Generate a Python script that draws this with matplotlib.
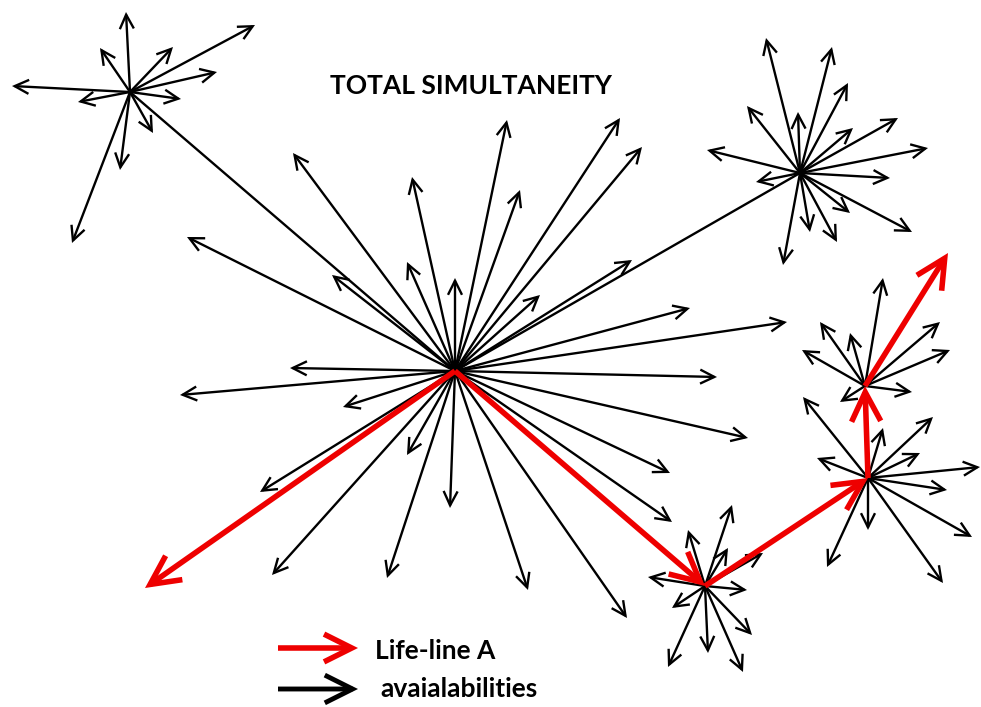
import matplotlib
matplotlib.use("Agg")
import matplotlib.pyplot as plt
from matplotlib.patches import FancyArrowPatch

# hubs (pixel coords, y downwards)
hub_main = (455, 371)
hub_tl = (130, 92)
hub_tr = (800, 173)
hub_bot = (705, 586)
hub_rmid = (868, 478)
hub_rup = (865, 386)

# tips of the black "availability" arrows per hub
tips_main = [(293, 153), (412, 177), (187, 237), (332, 275), (407, 262), (290, 368),
             (180, 395), (343, 407), (455, 278), (507, 120), (520, 190), (620, 118),
             (642, 147), (540, 295), (632, 260), (690, 308), (787, 322), (717, 377),
             (748, 438), (670, 473), (672, 522), (627, 618), (528, 590), (450, 508),
             (407, 455), (387, 578), (272, 575), (260, 492)]
tips_tl = [(126, 12), (100, 48), (173, 47), (255, 25), (217, 72), (181, 99),
           (12, 86), (78, 102), (153, 133), (120, 170), (72, 243)]
tips_tr = [(766, 38), (832, 47), (848, 83), (747, 106), (798, 112), (853, 128),
           (898, 118), (707, 150), (928, 148), (756, 182), (890, 178), (850, 213),
           (810, 232), (837, 242), (912, 232), (783, 265)]
tips_bot = [(732, 505), (688, 530), (728, 548), (763, 553), (648, 577), (747, 590),
            (672, 608), (752, 635), (708, 653), (668, 667), (743, 672)]
tips_rmid = [(803, 397), (883, 428), (933, 417), (817, 458), (920, 453), (980, 467),
             (947, 490), (868, 530), (972, 537), (827, 567), (943, 583)]
tips_rup = [(883, 278), (820, 322), (850, 333), (802, 350), (940, 322), (950, 350),
            (912, 392), (840, 402)]

# plain connecting lines
links = [(hub_main, hub_tl), (hub_main, hub_tr)]

# red life-line segments
lifeline = [(hub_main, (145, 588)), (hub_main, hub_bot), (hub_bot, hub_rmid),
            (hub_rmid, hub_rup), (hub_rup, (948, 253))]

fig = plt.figure(figsize=(9.81, 7.07), dpi=100)
ax = fig.add_axes([0, 0, 1, 1])
ax.set_xlim(0, 981)
ax.set_ylim(707, 0)
ax.axis("off")

black_style = "->,head_length=0.85,head_width=0.42"
red_style = "->,head_length=1.0,head_width=0.5"


def arrow(p0, p1, color="black", lw=1.7, style=black_style, ms=12, z=2):
    a = FancyArrowPatch(p0, p1, arrowstyle=style, mutation_scale=ms, color=color,
                        lw=lw, shrinkA=0, shrinkB=0, zorder=z, joinstyle="miter",
                        capstyle="butt")
    ax.add_patch(a)


for hub, tips in [(hub_main, tips_main), (hub_tl, tips_tl), (hub_tr, tips_tr),
                  (hub_bot, tips_bot), (hub_rmid, tips_rmid), (hub_rup, tips_rup)]:
    for t in tips:
        arrow(hub, t)

for p0, p1 in links:
    ax.plot([p0[0], p1[0]], [p0[1], p1[1]], color="black", lw=1.7, zorder=2)

for p0, p1 in lifeline:
    arrow(p0, p1, color="#ee0000", lw=4, style=red_style, ms=21, z=3)

ax.text(471, 86, "TOTAL SIMULTANEITY", fontsize=19, fontweight="bold",
        family="Lato", ha="center", va="center")

# legend
arrow((278, 648), (358, 648), color="#ee0000", lw=4, style=red_style, ms=20, z=3)
arrow((278, 689), (358, 689), color="black", lw=3.5, style=red_style, ms=20, z=3)
ax.text(375, 651, "Life-line A", fontsize=19, fontweight="bold", family="Lato",
        ha="left", va="center")
ax.text(380, 689, "avaialabilities", fontsize=19, fontweight="bold", family="Lato",
        ha="left", va="center")

fig.savefig("out.png", dpi=100)
